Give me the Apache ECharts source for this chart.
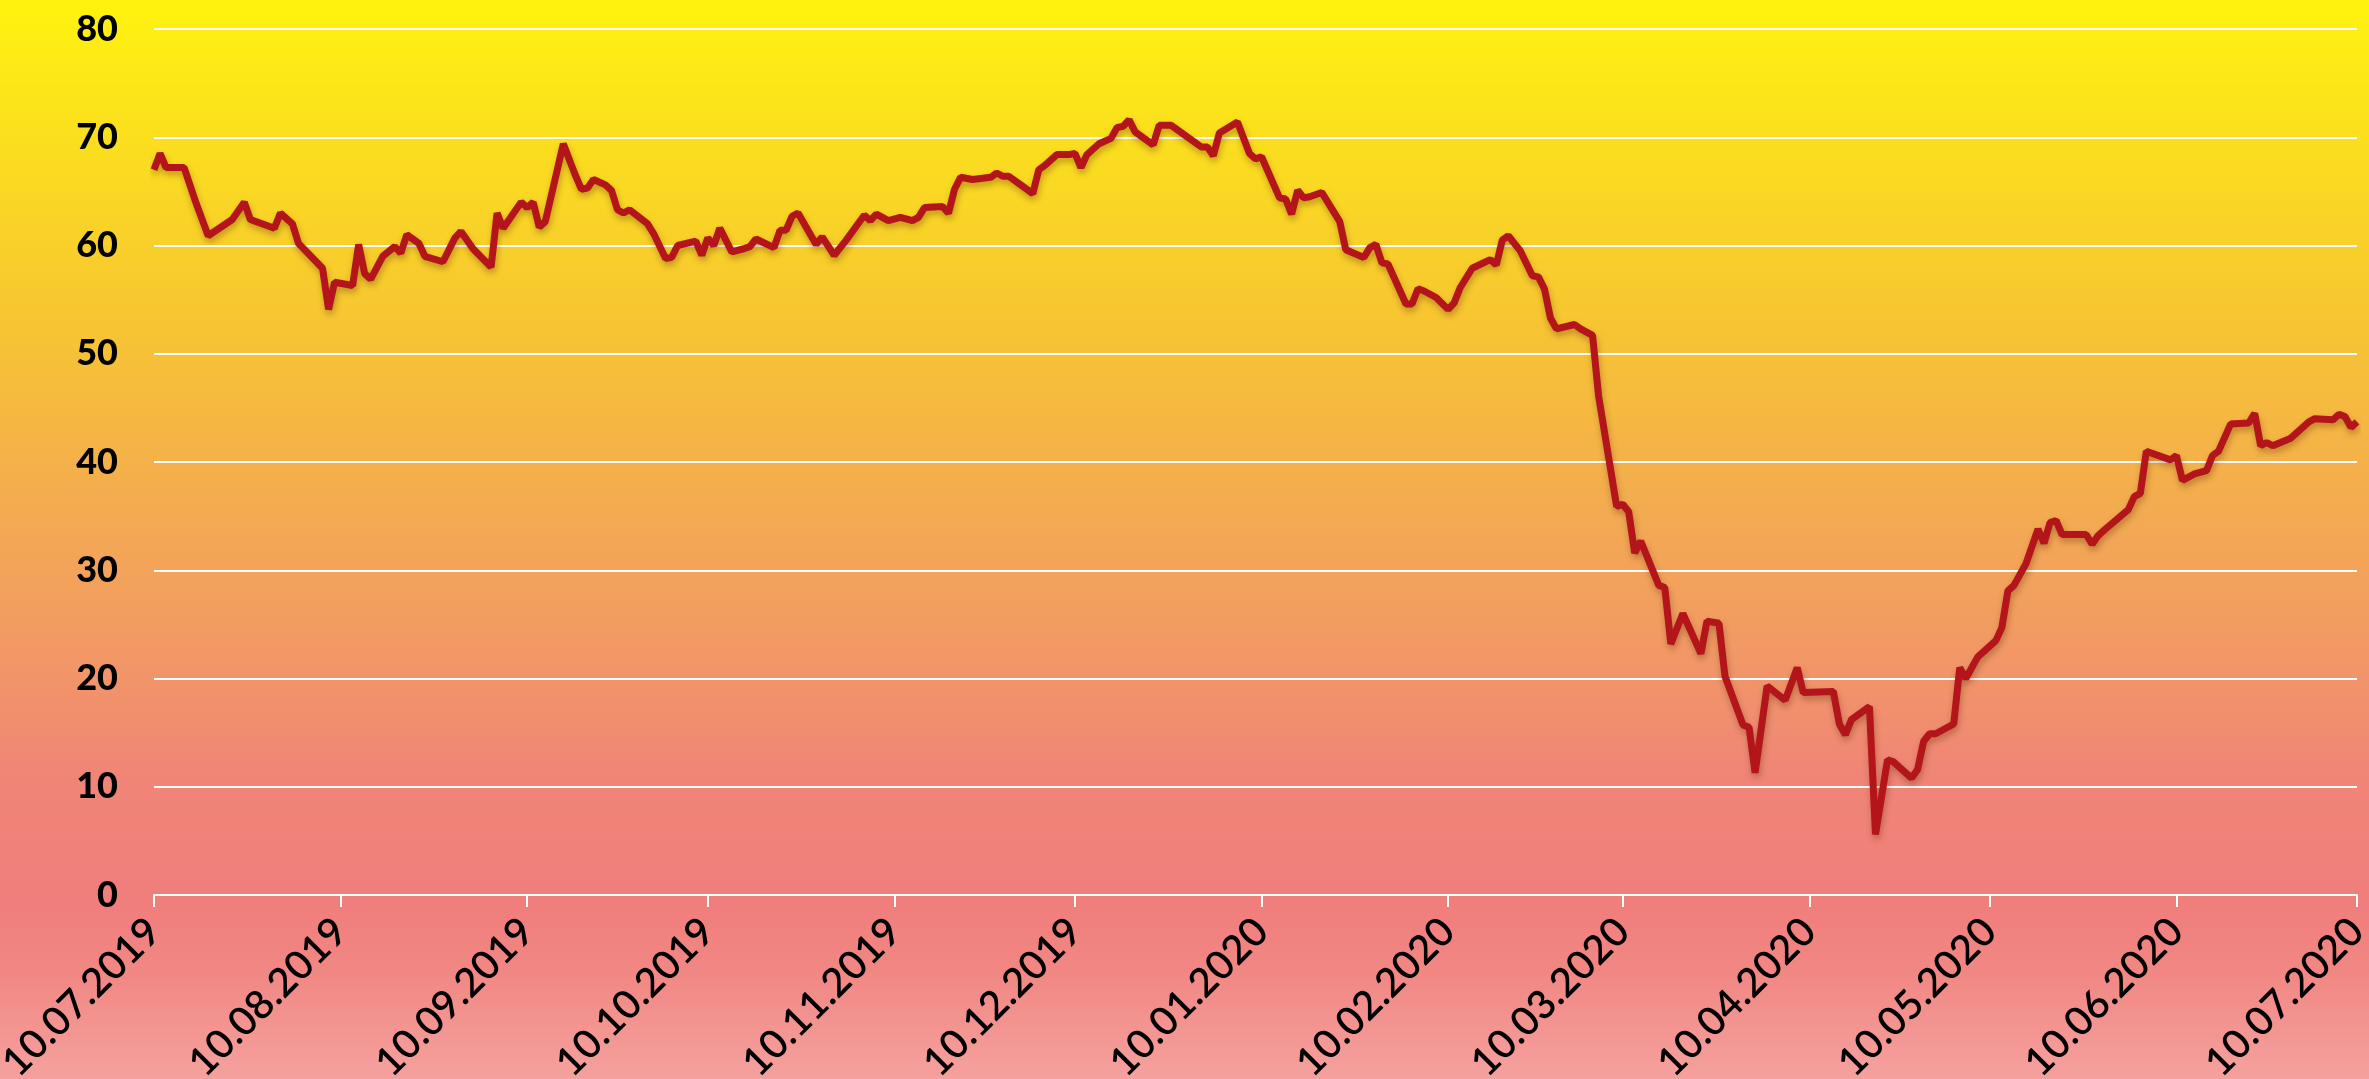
<!DOCTYPE html>
<html>
<head>
<meta charset="utf-8">
<script src="https://cdn.jsdelivr.net/npm/echarts@6/dist/echarts.min.js"></script>
<style>
  html, body { margin: 0; padding: 0; }
  #chart { width: 2369px; height: 1079px; }
</style>
</head>
<body>
<div id="chart"></div>
<script>
// trading days
const dates = [
  "2019-07-10", "2019-07-11", "2019-07-12", "2019-07-15", "2019-07-17", "2019-07-19", "2019-07-23", "2019-07-25",
  "2019-07-26", "2019-07-30", "2019-07-31", "2019-08-02", "2019-08-03", "2019-08-07", "2019-08-08", "2019-08-09",
  "2019-08-12", "2019-08-13", "2019-08-14", "2019-08-15", "2019-08-17", "2019-08-19", "2019-08-20", "2019-08-21",
  "2019-08-23", "2019-08-24", "2019-08-27", "2019-08-29", "2019-08-30", "2019-09-01", "2019-09-04", "2019-09-05",
  "2019-09-06", "2019-09-09", "2019-09-10", "2019-09-11", "2019-09-12", "2019-09-13", "2019-09-16", "2019-09-18",
  "2019-09-19", "2019-09-20", "2019-09-21", "2019-09-23", "2019-09-24", "2019-09-25", "2019-09-26", "2019-09-27",
  "2019-09-30", "2019-10-01", "2019-10-03", "2019-10-04", "2019-10-05", "2019-10-08", "2019-10-09", "2019-10-10",
  "2019-10-11", "2019-10-12", "2019-10-14", "2019-10-16", "2019-10-17", "2019-10-18", "2019-10-21", "2019-10-22",
  "2019-10-23", "2019-10-24", "2019-10-25", "2019-10-28", "2019-10-29", "2019-10-31", "2019-11-02", "2019-11-05",
  "2019-11-06", "2019-11-07", "2019-11-09", "2019-11-11", "2019-11-13", "2019-11-14", "2019-11-15", "2019-11-18",
  "2019-11-19", "2019-11-20", "2019-11-21", "2019-11-23", "2019-11-26", "2019-11-27", "2019-11-28", "2019-11-29",
  "2019-12-01", "2019-12-03", "2019-12-04", "2019-12-05", "2019-12-07", "2019-12-09", "2019-12-10", "2019-12-11",
  "2019-12-12", "2019-12-14", "2019-12-16", "2019-12-17", "2019-12-18", "2019-12-19", "2019-12-20", "2019-12-23",
  "2019-12-24", "2019-12-26", "2019-12-29", "2019-12-31", "2020-01-01", "2020-01-02", "2020-01-03", "2020-01-06",
  "2020-01-08", "2020-01-09", "2020-01-10", "2020-01-13", "2020-01-14", "2020-01-15", "2020-01-16", "2020-01-17",
  "2020-01-18", "2020-01-20", "2020-01-23", "2020-01-24", "2020-01-27", "2020-01-28", "2020-01-29", "2020-01-30",
  "2020-01-31", "2020-02-03", "2020-02-04", "2020-02-05", "2020-02-06", "2020-02-08", "2020-02-10", "2020-02-11",
  "2020-02-12", "2020-02-14", "2020-02-17", "2020-02-18", "2020-02-19", "2020-02-20", "2020-02-22", "2020-02-24",
  "2020-02-25", "2020-02-26", "2020-02-27", "2020-02-28", "2020-03-02", "2020-03-03", "2020-03-05", "2020-03-06",
  "2020-03-09", "2020-03-10", "2020-03-11", "2020-03-12", "2020-03-13", "2020-03-16", "2020-03-17", "2020-03-18",
  "2020-03-20", "2020-03-23", "2020-03-24", "2020-03-26", "2020-03-27", "2020-03-30", "2020-03-31", "2020-04-01",
  "2020-04-03", "2020-04-06", "2020-04-08", "2020-04-09", "2020-04-14", "2020-04-15", "2020-04-16", "2020-04-17",
  "2020-04-20", "2020-04-21", "2020-04-23", "2020-04-24", "2020-04-27", "2020-04-28", "2020-04-29", "2020-04-30",
  "2020-05-01", "2020-05-04", "2020-05-05", "2020-05-06", "2020-05-08", "2020-05-11", "2020-05-12", "2020-05-13",
  "2020-05-14", "2020-05-16", "2020-05-18", "2020-05-19", "2020-05-20", "2020-05-21", "2020-05-22", "2020-05-26",
  "2020-05-27", "2020-05-28", "2020-05-29", "2020-06-02", "2020-06-03", "2020-06-04", "2020-06-05", "2020-06-09",
  "2020-06-10", "2020-06-11", "2020-06-13", "2020-06-15", "2020-06-16", "2020-06-17", "2020-06-19", "2020-06-22",
  "2020-06-23", "2020-06-24", "2020-06-25", "2020-06-26", "2020-06-29", "2020-07-02", "2020-07-03", "2020-07-06",
  "2020-07-07", "2020-07-08", "2020-07-09", "2020-07-10"
];

const prices = [
  67.0, 68.5, 67.2, 67.2, 63.9, 60.9, 62.4, 64.0,
  62.4, 61.6, 63.0, 62.0, 60.2, 57.9, 54.1, 56.6,
  56.3, 60.1, 57.4, 56.9, 59.0, 59.9, 59.3, 61.0,
  60.2, 59.0, 58.5, 60.7, 61.3, 59.7, 58.0, 63.0,
  61.6, 64.0, 63.5, 64.0, 61.7, 62.2, 69.4, 66.5,
  65.2, 65.3, 66.1, 65.6, 65.1, 63.3, 63.0, 63.3,
  62.0, 61.1, 58.8, 58.9, 60.0, 60.4, 59.1, 60.7,
  60.0, 61.6, 59.4, 59.7, 59.9, 60.6, 59.8, 61.4,
  61.4, 62.7, 63.0, 60.1, 60.8, 59.1, 60.5, 62.8,
  62.3, 62.9, 62.3, 62.6, 62.3, 62.6, 63.5, 63.6,
  63.0, 65.2, 66.3, 66.1, 66.3, 66.7, 66.4, 66.4,
  65.6, 64.8, 67.0, 67.4, 68.4, 68.4, 68.5, 67.2,
  68.4, 69.4, 69.9, 70.9, 71.0, 71.6, 70.5, 69.3,
  71.1, 71.1, 69.9, 69.1, 69.1, 68.3, 70.4, 71.4,
  68.5, 68.0, 68.2, 64.4, 64.3, 62.9, 65.1, 64.4,
  64.5, 64.9, 62.2, 59.6, 58.9, 59.8, 60.1, 58.4,
  58.3, 54.6, 54.6, 56.0, 55.8, 55.2, 54.1, 54.7,
  56.1, 57.9, 58.7, 58.2, 60.5, 60.9, 59.5, 57.2,
  57.1, 56.0, 53.3, 52.3, 52.7, 52.3, 51.7, 46.1,
  35.9, 36.1, 35.4, 31.6, 32.7, 28.6, 28.4, 23.2,
  26.0, 22.3, 25.3, 25.1, 20.2, 15.7, 15.5, 11.3,
  19.3, 18.0, 21.0, 18.7, 18.8, 15.8, 14.8, 16.2,
  17.4, 5.6, 12.5, 12.3, 10.8, 11.6, 14.2, 14.9,
  14.9, 15.8, 21.0, 20.0, 22.0, 23.5, 24.7, 28.1,
  28.6, 30.6, 33.8, 32.5, 34.4, 34.6, 33.3, 33.3,
  32.4, 33.2, 33.7, 35.6, 36.8, 37.1, 41.0, 40.2,
  40.6, 38.3, 38.9, 39.2, 40.6, 41.0, 43.5, 43.6,
  44.5, 41.5, 41.8, 41.5, 42.2, 43.7, 44.0, 43.9,
  44.4, 44.2, 43.2, 43.7
];

// x axis labels sit on the 10th of every month
const tickDates = [
  "2019-07-10", "2019-08-10", "2019-09-10", "2019-10-10", "2019-11-10", "2019-12-10", "2020-01-10",
  "2020-02-10", "2020-03-10", "2020-04-10", "2020-05-10", "2020-06-10", "2020-07-10"
];

const yTicks = [0, 10, 20, 30, 40, 50, 60, 70, 80];

function toTime(s) {
  const p = s.split("-").map(Number);
  return new Date(p[0], p[1] - 1, p[2]).getTime();
}

function pad(n) {
  return n < 10 ? "0" + n : String(n);
}

const tickTimes = tickDates.map(toTime);

const chart = echarts.init(document.getElementById("chart"), null, { renderer: "canvas" });

chart.setOption({
  animation: false,
  backgroundColor: {
    type: "linear", x: 0, y: 0, x2: 0, y2: 1,
    colorStops: [
      { offset: 0, color: "#fff30f" },
      { offset: 0.12, color: "#fbe01d" },
      { offset: 0.3, color: "#f7c532" },
      { offset: 0.45, color: "#f4ae4d" },
      { offset: 0.6, color: "#f29965" },
      { offset: 0.72, color: "#f08577" },
      { offset: 0.84, color: "#f07e7c" },
      { offset: 0.9, color: "#f18783" },
      { offset: 1, color: "#f5a19e" }
    ]
  },
  grid: {
    left: 154,
    right: 12,
    top: 29,
    bottom: 184,
    containLabel: false,
    outerBoundsMode: "none"
  },
  xAxis: {
    type: "value",
    min: tickTimes[0],
    max: tickTimes[tickTimes.length - 1],
    axisLine: { show: true, lineStyle: { color: "#ffffff", width: 2 } },
    axisTick: {
      show: true,
      length: 12,
      lineStyle: { color: "#ffffff", width: 2 },
      customValues: tickTimes
    },
    axisLabel: {
      customValues: tickTimes,
      showMinLabel: true,
      showMaxLabel: true,
      hideOverlap: false,
      rotate: 45,
      margin: 30,
      color: "#000000",
      fontSize: 40,
      fontWeight: 600,
      fontFamily: "Lato, 'DejaVu Sans', sans-serif",
      formatter: (val) => {
        const d = new Date(val);
        return pad(d.getDate()) + "." + pad(d.getMonth() + 1) + "." + d.getFullYear();
      }
    },
    splitLine: { show: false }
  },
  yAxis: {
    type: "value",
    min: yTicks[0],
    max: yTicks[yTicks.length - 1],
    interval: 10,
    axisLine: { show: false },
    axisTick: { show: false },
    axisLabel: {
      margin: 36,
      color: "#000000",
      fontSize: 36,
      fontWeight: 900,
      fontFamily: "Lato, 'DejaVu Sans', sans-serif"
    },
    splitLine: { lineStyle: { color: "#ffffff", width: 2 } }
  },
  series: [
    {
      type: "line",
      data: dates.map((d, i) => [toTime(d), prices[i]]),
      showSymbol: false,
      smooth: false,
      lineStyle: {
        color: "#b3151b",
        width: 7,
        shadowColor: "rgba(90, 40, 0, 0.35)",
        shadowBlur: 6,
        shadowOffsetY: 4,
        shadowOffsetX: 1
      },
      itemStyle: { color: "#b3151b" }
    }
  ]
});
</script>
</body>
</html>
